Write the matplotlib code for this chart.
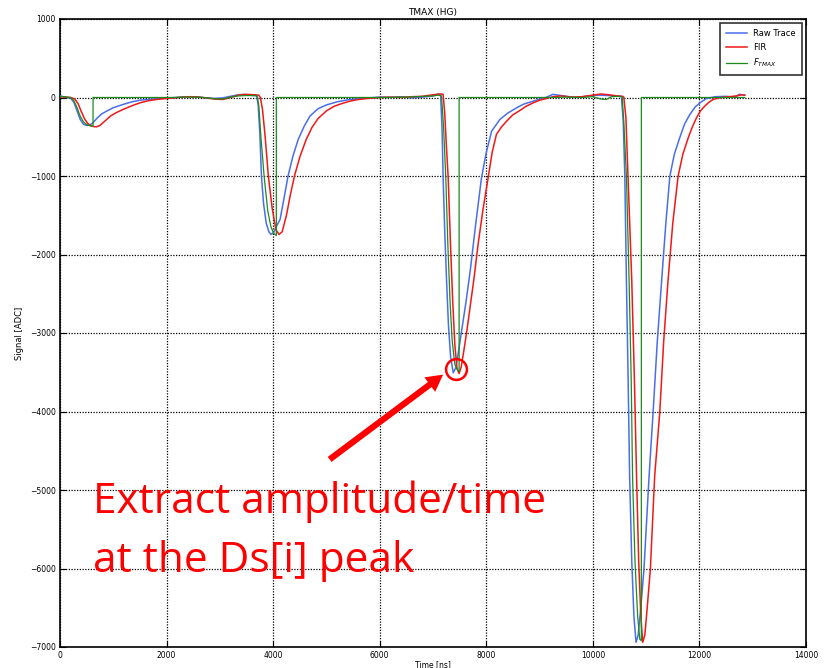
import matplotlib
matplotlib.use("Agg")
import matplotlib.pyplot as plt

# Raw trace (time in ns, signal in ADC counts)
raw_t = [0, 100, 200, 260, 320, 380, 440, 500, 560, 620, 700, 780, 875, 1000, 1180, 1350,
         1500, 1650, 1810, 2000, 2150, 2300, 2450, 2600, 2750, 2900, 3050, 3200, 3350,
         3450, 3550, 3620, 3690, 3720, 3750, 3780, 3820, 3870, 3920, 3960, 4010, 4070,
         4130, 4200, 4280, 4370, 4470, 4580, 4690, 4840, 5000, 5200, 5400, 5600, 5800,
         6000, 6200, 6400, 6600, 6800, 7000, 7100, 7143, 7170, 7190, 7220, 7255, 7290,
         7330, 7380, 7430, 7480, 7540, 7620, 7700, 7800, 7910, 8000, 8100, 8255, 8400,
         8570, 8700, 8880, 9000, 9130, 9250, 9350, 9500, 9700, 9900, 10100, 10300, 10450,
         10535, 10570, 10600, 10630, 10660, 10690, 10730, 10770, 10810, 10850, 10900,
         10960, 11055, 11130, 11210, 11290, 11370, 11445, 11530, 11630, 11720, 11820,
         11920, 12010, 12130, 12300, 12500, 12650, 12750, 12850]
raw_v = [20, 5, -10, -60, -170, -280, -340, -357, -350, -320, -260, -210, -174, -130, -89,
         -55, -34, -25, -17, -8, 0, 5, 10, 5, -5, -12, -5, 15, 35, 40, 30, 25, 25, -100,
         -450, -1000, -1350, -1600, -1710, -1745, -1720, -1630, -1554, -1300, -1000, -750,
         -535, -370, -238, -144, -95, -55, -30, -15, -5, 5, 0, 10, -5, 5, 20, 45, 30, -400,
         -1023, -1700, -2340, -2900, -3300, -3507, -3440, -3230, -2960, -2600, -2200,
         -1620, -1023, -700, -429, -280, -200, -131, -85, -47, -20, 4, 40, 30, 15, 0, 20,
         30, 25, 20, 15, -300, -1002, -2340, -3500, -4824, -5900, -6600, -6940, -6850,
         -6500, -6000, -4824, -4016, -3100, -2340, -1600, -1002, -720, -513, -340, -217,
         -120, -68, -13, 10, 15, 5, 40, 30]

# FIR filter output
fir_t = [0, 100, 200, 280, 340, 400, 460, 520, 580, 640, 690, 750, 810, 875, 950, 1050,
         1180, 1350, 1500, 1650, 1810, 2000, 2150, 2300, 2450, 2600, 2750, 2900, 3050,
         3150, 3250, 3350, 3500, 3650, 3730, 3760, 3800, 3850, 3910, 3980, 4050, 4110,
         4170, 4250, 4320, 4400, 4500, 4620, 4730, 4840, 5000, 5150, 5300, 5450, 5600,
         5800, 6000, 6200, 6400, 6600, 6800, 7000, 7150, 7190, 7220, 7250, 7285, 7330,
         7370, 7410, 7450, 7490, 7530, 7580, 7640, 7700, 7770, 7850, 7940, 8035, 8110,
         8190, 8280, 8380, 8500, 8630, 8750, 8880, 9000, 9130, 9250, 9400, 9600, 9800,
         10000, 10150, 10300, 10450, 10560, 10580, 10620, 10660, 10730, 10780, 10820,
         10860, 10900, 10935, 10975, 11020, 11080, 11160, 11255, 11330, 11410, 11500,
         11600, 11690, 11790, 11870, 11945, 12020, 12100, 12180, 12255, 12400, 12550,
         12700, 12800, 12850]
fir_v = [10, 5, 0, -20, -80, -180, -270, -330, -360, -372, -373, -355, -320, -280, -235,
         -195, -153, -105, -68, -42, -25, -12, -5, 5, 10, 5, -5, -20, -25, -10, 10, 30, 40,
         35, 30, 0, -150, -500, -1000, -1400, -1680, -1745, -1710, -1500, -1250, -1000,
         -760, -535, -380, -271, -170, -110, -75, -45, -25, -10, 0, 5, 0, 10, 15, 35, 45,
         40, -200, -600, -1023, -1900, -2600, -3150, -3450, -3516, -3430, -3220, -2950,
         -2650, -2300, -1850, -1420, -1023, -700, -471, -380, -302, -220, -166, -110, -68,
         -35, -13, 10, 20, 5, 10, 30, 45, 35, 20, 15, 5, -250, -1002, -2330, -3600, -4824,
         -5900, -6600, -6940, -6850, -6500, -6000, -4824, -4016, -3100, -2340, -1600,
         -1002, -720, -513, -370, -259, -170, -110, -60, -25, 0, 10, 20, 35, 30]

# F_TMAX: follows the shaped pulse up to its maximum, then resets to zero
ftmax_t = [0, 200, 260, 320, 380, 440, 500, 560, 620, 620, 1900, 2150, 2300, 2600, 2900,
           3050, 3200, 3350, 3500, 3650, 3700, 3730, 3770, 3830, 3900, 3960, 4010, 4060,
           4060, 5500, 6000, 6500, 7000, 7100, 7160, 7200, 7240, 7280, 7320, 7360, 7410,
           7470, 7490, 7490, 9300, 9500, 9800, 10000, 10150, 10250, 10350, 10450, 10550,
           10580, 10630, 10680, 10720, 10745, 10790, 10840, 10880, 10910, 10910, 12850]
ftmax_v = [15, 0, -40, -130, -240, -310, -345, -360, -365, 0, 0, 0, 5, 5, -15, -20, 5, 20,
           25, 25, 20, -100, -500, -1000, -1450, -1650, -1730, -1760, 0, 0, 0, 5, 20, 30,
           20, -400, -1023, -1900, -2600, -3100, -3400, -3486, -3490, 0, 0, 5, 0, 10, -20,
           -25, 10, 15, 10, -300, -1002, -2330, -3600, -4824, -5900, -6600, -6900, -6920,
           0, 0]

peak_time = 7430
peak_value = -3460

x_ticks = [0, 2000, 4000, 6000, 8000, 10000, 12000, 14000]
y_ticks = [1000, 0, -1000, -2000, -3000, -4000, -5000, -6000, -7000]

fig = plt.figure(figsize=(8.3, 6.68), dpi=100)
ax = fig.add_axes([60 / 830, 21 / 668, 746 / 830, 628 / 668])

ax.plot(raw_t, raw_v, color="#4a6ee8", lw=1.1, label="Raw Trace", zorder=3)
ax.plot(fir_t, fir_v, color="#f01818", lw=1.1, label="FIR", zorder=4)
ax.plot(ftmax_t, ftmax_v, color="#1e8a1e", lw=0.9, label=r"$F_{TMAX}$", zorder=5)

ax.set_xlim(0, 14000)
ax.set_ylim(-7000, 1000)
ax.set_xticks(x_ticks)
ax.set_yticks(y_ticks)
ax.tick_params(direction="in", top=True, right=True, length=4, width=0.8,
               labelsize=5.5, pad=3)
ax.grid(True, color="black", linestyle=(0, (1, 1.2)), linewidth=0.9)
ax.set_axisbelow(True)
for sp in ax.spines.values():
    sp.set_linewidth(1.2)

ax.set_title("TMAX (HG)", fontsize=6.5, pad=3)
ax.set_xlabel("Time [ns]", fontsize=5.5, labelpad=0)
ax.set_ylabel("Signal [ADC]", fontsize=6, labelpad=4)

leg = ax.legend(loc="upper right", fontsize=6, frameon=True, fancybox=False,
                borderpad=0.7, handlelength=2.5, labelspacing=0.6)
leg.get_frame().set_edgecolor("black")
leg.get_frame().set_linewidth(1.2)

# Peak marker and call-out arrow
ax.plot([peak_time], [peak_value], marker="o", markersize=15, mfc="none",
        mec="red", mew=1.8, zorder=6)
ax.annotate("", xy=(7190, -3530), xytext=(5060, -4610),
            arrowprops=dict(arrowstyle="simple,head_length=1.2,head_width=1.3,tail_width=0.45",
                            color="red", lw=0, shrinkA=0, shrinkB=0), zorder=6)

fig.text(93 / 830, 1 - 513 / 668, "Extract amplitude/time", color="red",
         fontsize=30.5, family="Open Sans", va="baseline", ha="left")
fig.text(93 / 830, 1 - 572 / 668, "at the Ds[i] peak", color="red",
         fontsize=30.5, family="Open Sans", va="baseline", ha="left")

fig.savefig("out.png", dpi=100)
